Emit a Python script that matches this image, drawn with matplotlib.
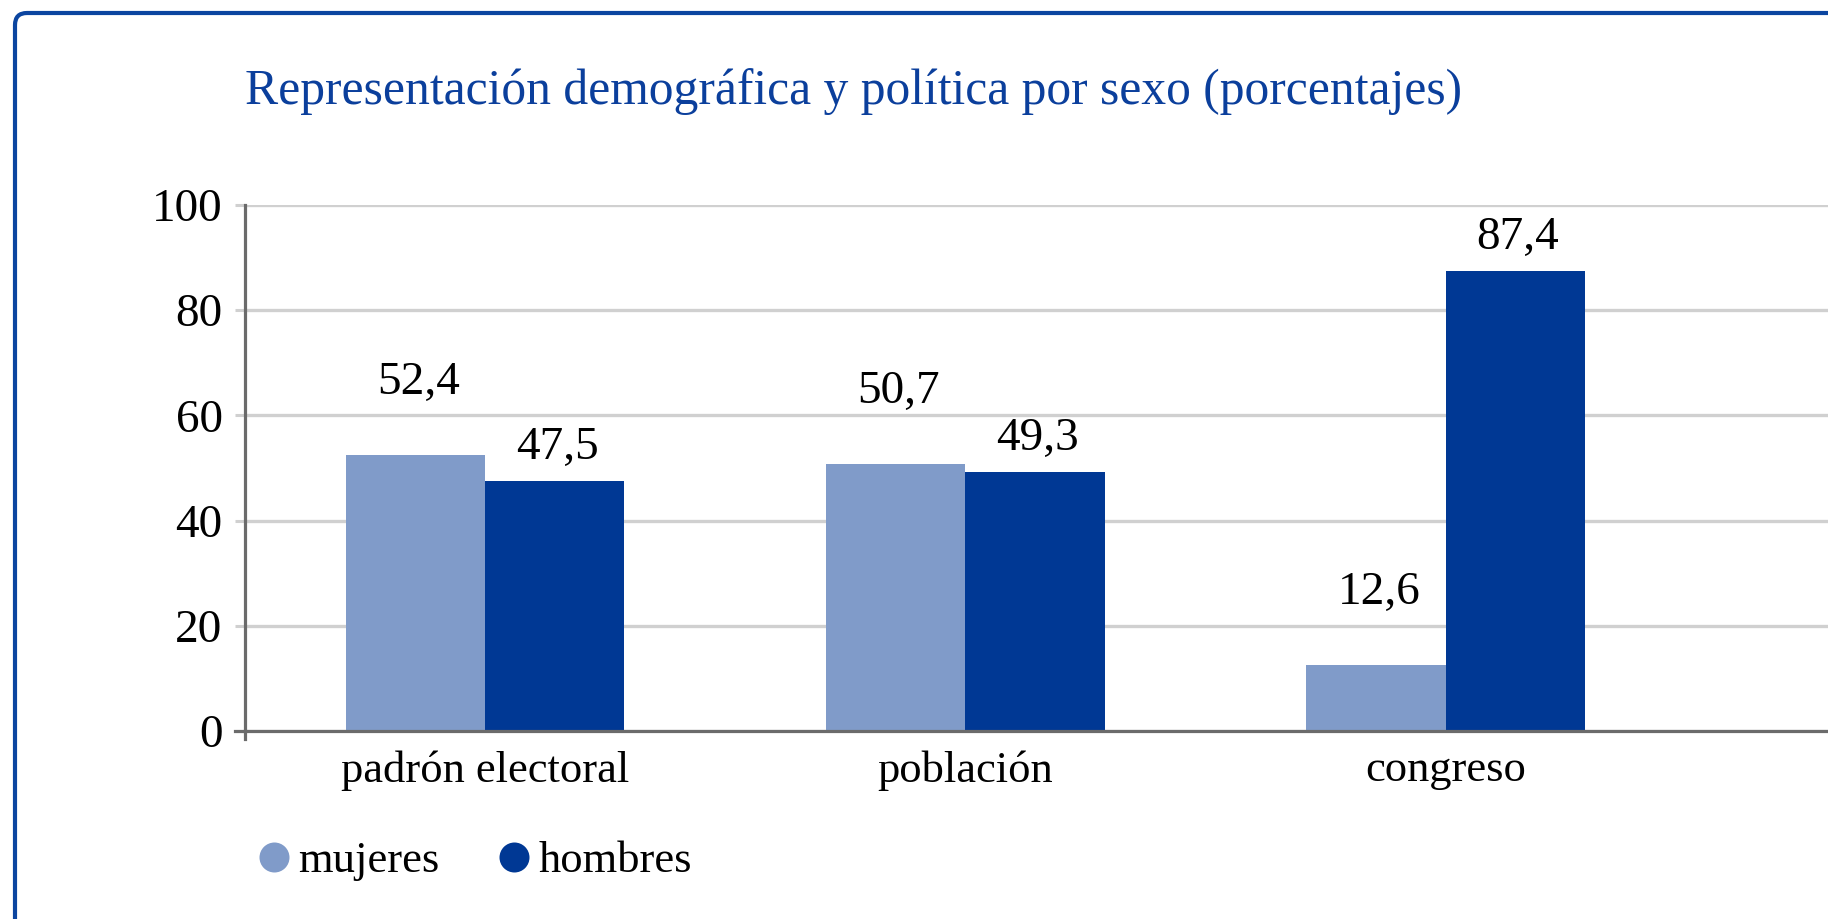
import numpy as np
import matplotlib
matplotlib.use('Agg')
import matplotlib.pyplot as plt
from matplotlib.patches import FancyBboxPatch
from matplotlib.lines import Line2D
from matplotlib.transforms import IdentityTransform

categories = ['padrón electoral', 'población', 'congreso']
mujeres = [52.4, 50.7, 12.6]
hombres = [47.5, 49.3, 87.4]
series_names = ['mujeres', 'hombres']
y_ticks = [0, 20, 40, 60, 80, 100]

title = 'Representación demográfica y política por sexo (porcentajes)'

c_muj = '#809bc9'
c_hom = '#003894'
c_border = '#0b45a0'
c_grid = '#d0d0d0'
c_axis = '#6b6b6b'

plt.rcParams['font.family'] = ['Liberation Serif', 'DejaVu Serif']

W, H, dpi = 1828, 919, 100
fig = plt.figure(figsize=(W / dpi, H / dpi), dpi=dpi)

# rounded frame, running off the right and bottom edges
frame = FancyBboxPatch((15, -100), 2000, (H - 13) + 100,
                       boxstyle='round,pad=0,rounding_size=12',
                       transform=IdentityTransform(), fill=False,
                       ec=c_border, lw=3.0, zorder=0)
fig.patches.append(frame)

ax_left, ax_bottom, ax_top = 245 / W, (H - 731) / H, (H - 205) / H
ax = fig.add_axes([ax_left, ax_bottom, 1 - ax_left, ax_top - ax_bottom])

x = np.arange(len(categories))
bw = 0.29
ax.bar(x - bw / 2, mujeres, width=bw, color=c_muj, zorder=3, label=series_names[0])
ax.bar(x + bw / 2, hombres, width=bw, color=c_hom, zorder=3, label=series_names[1])

for xi, v in zip(x, mujeres):
    ax.annotate(f'{v:.1f}'.replace('.', ','), (xi - bw / 2, v), xytext=(2, 52),
                textcoords='offset points', ha='center', va='center', fontsize=34)
for xi, v in zip(x, hombres):
    ax.annotate(f'{v:.1f}'.replace('.', ','), (xi + bw / 2, v), xytext=(2, 24),
                textcoords='offset points', ha='center', va='center', fontsize=34)

ax.set_xlim(-0.5, 2.796)
ax.set_ylim(0, 100)
ax.set_yticks(y_ticks)
ax.set_yticklabels([str(t) for t in y_ticks], fontsize=34)
ax.set_xticks(x)
ax.set_xticklabels(categories, fontsize=32)
ax.tick_params(axis='x', length=0, pad=14)
ax.tick_params(axis='y', length=7.2, width=2.2, color=c_grid, pad=9)
ax.yaxis.grid(True, color=c_grid, lw=2.4, zorder=0)
ax.set_axisbelow(True)

for s in ['top', 'right']:
    ax.spines[s].set_visible(False)
ax.spines['left'].set_color(c_axis)
ax.spines['left'].set_linewidth(2.3)
ax.spines['bottom'].set_color(c_axis)
ax.spines['bottom'].set_linewidth(2.3)
ax.spines['bottom'].set_zorder(4)

# small overhang of the axis lines at the origin
ax.add_line(Line2D([-10 / (W - 245), 0], [0, 0], transform=ax.transAxes,
                   color=c_axis, lw=2.3, clip_on=False))
ax.add_line(Line2D([0, 0], [-8 / (731 - 205), 0], transform=ax.transAxes,
                   color=c_axis, lw=2.3, clip_on=False))

fig.text(ax_left, (H - 104) / H, title, color='#0b3f9c', fontsize=35.7,
         ha='left', va='baseline')

handles = [Line2D([], [], ls='none', marker='o', ms=21.6, mec='none', mfc=c_muj),
           Line2D([], [], ls='none', marker='o', ms=21.6, mec='none', mfc=c_hom)]
fig.legend(handles, series_names, loc='center left',
           bbox_to_anchor=(258.5 / W, (H - 861) / H), ncol=2, frameon=False,
           fontsize=32, handlelength=0.7, handletextpad=0.2, columnspacing=1.32,
           borderpad=0, borderaxespad=0)

fig.savefig('out.png', dpi=dpi)
